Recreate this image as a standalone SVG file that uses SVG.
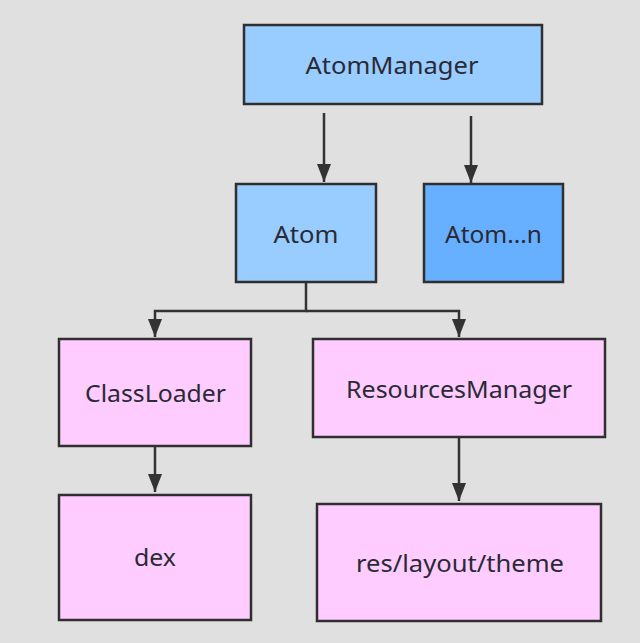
<svg xmlns="http://www.w3.org/2000/svg" width="640" height="643" viewBox="0 0 640 643">
<style>
.box{stroke:#2f2f2f;stroke-width:2.5}
.blue{fill:#99ccff}
.blue2{fill:#66b0ff}
.pink{fill:#ffccff}
.lbl{font-family:"Noto Sans","Open Sans","DejaVu Sans",sans-serif;font-size:23px;fill:#2a2a35;text-anchor:middle}
.edge{stroke:#333;stroke-width:2.5;fill:none}
</style>
<defs>
<marker id="arr" viewBox="0 0 18 14" refX="18" refY="7" markerWidth="18" markerHeight="14" markerUnits="userSpaceOnUse" orient="auto">
<path d="M0,0 L18,7 L0,14 z" fill="#333"/>
</marker>
</defs>
<rect width="640" height="643" fill="#e0e0e0"/>
<g id="connectors">
<line class="edge" x1="324" y1="113" x2="324" y2="182" marker-end="url(#arr)"/>
<line class="edge" x1="471" y1="116" x2="471" y2="183" marker-end="url(#arr)"/>
<polyline class="edge" points="306,283 306,311 155,311 155,337" marker-end="url(#arr)"/>
<polyline class="edge" points="306,311 459,311 459,337" marker-end="url(#arr)"/>
<line class="edge" x1="155" y1="447" x2="155" y2="492" marker-end="url(#arr)"/>
<line class="edge" x1="459" y1="437" x2="459" y2="501" marker-end="url(#arr)"/>
</g>
<g id="atommanager">
<rect class="box blue" x="244" y="25" width="298" height="79"/>
<text class="lbl" x="392" y="74" textLength="173" lengthAdjust="spacingAndGlyphs">AtomManager</text>
</g>
<g id="atom">
<rect class="box blue" x="236" y="184" width="140" height="98"/>
<text class="lbl" x="306" y="243" textLength="65" lengthAdjust="spacingAndGlyphs">Atom</text>
</g>
<g id="atomn">
<rect class="box blue2" x="424" y="184" width="139" height="98"/>
<text class="lbl" x="493.5" y="243" textLength="97" lengthAdjust="spacingAndGlyphs">Atom...n</text>
</g>
<g id="classloader">
<rect class="box pink" x="59" y="339" width="192" height="107"/>
<text class="lbl" x="155.5" y="402" textLength="141" lengthAdjust="spacingAndGlyphs">ClassLoader</text>
</g>
<g id="resourcesmanager">
<rect class="box pink" x="313" y="339" width="292" height="98"/>
<text class="lbl" x="459" y="398" textLength="226" lengthAdjust="spacingAndGlyphs">ResourcesManager</text>
</g>
<g id="dex">
<rect class="box pink" x="59" y="495" width="192" height="125"/>
<text class="lbl" x="155" y="566" textLength="42" lengthAdjust="spacingAndGlyphs">dex</text>
</g>
<g id="res">
<rect class="box pink" x="317" y="504" width="284" height="117"/>
<text class="lbl" x="460" y="572" textLength="208" lengthAdjust="spacingAndGlyphs">res/layout/theme</text>
</g>
</svg>
